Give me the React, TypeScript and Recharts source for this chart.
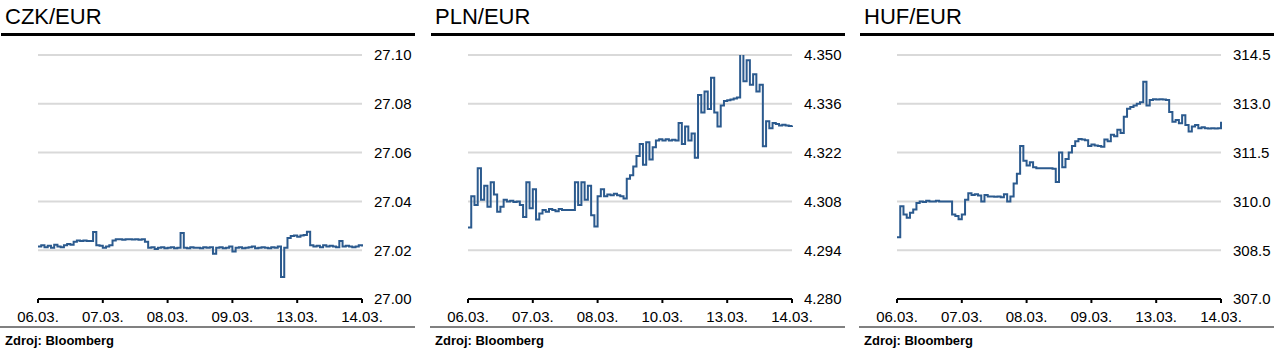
import React from "react";
import { LineChart, Line, XAxis, YAxis, CartesianGrid } from "recharts";

// day labels under the x axis (intraday data, 20 samples per day)
const daysCzkHuf = ["06.03.", "07.03.", "08.03.", "09.03.", "13.03.", "14.03."];
const daysPln = ["06.03.", "07.03.", "08.03.", "10.03.", "13.03.", "14.03."];
const xTicks = [0, 20, 40, 60, 80, 100];

const czkTicks = [27.0, 27.02, 27.04, 27.06, 27.08, 27.1];
const plnTicks = [4.28, 4.294, 4.308, 4.322, 4.336, 4.35];
const hufTicks = [307.0, 308.5, 310.0, 311.5, 313.0, 314.5];

const czk = [
  27.0215, 27.022, 27.0212, 27.0218, 27.021, 27.0222, 27.0215, 27.0212, 27.022, 27.0225, 27.0222,
  27.0235, 27.024, 27.0238, 27.024, 27.0238, 27.0238,
  27.0275,
  27.022, 27.0218, 27.021, 27.0215, 27.022,
  27.024, 27.0245, 27.0245, 27.0243, 27.0245, 27.0245, 27.0244, 27.0245, 27.0243, 27.0245, 27.0235,
  27.021, 27.0212, 27.0205, 27.021, 27.0212, 27.0208, 27.021, 27.0212, 27.0208, 27.021,
  27.027,
  27.021, 27.0208, 27.0212, 27.021, 27.021, 27.0208, 27.0212, 27.021, 27.0212,
  27.0185,
  27.021, 27.0212, 27.0208, 27.021, 27.0215,
  27.0195,
  27.021, 27.0212, 27.0208, 27.021, 27.0212, 27.0215, 27.0208, 27.021, 27.0212, 27.021, 27.0208, 27.0212, 27.021, 27.0215,
  27.009,
  27.021,
  27.025, 27.0258, 27.026, 27.0255, 27.026, 27.0262, 27.0276,
  27.022, 27.0215, 27.0218, 27.0212, 27.022, 27.0215, 27.0218, 27.0215, 27.0212, 27.0238, 27.0215,
  27.0218, 27.0215, 27.0212, 27.0215, 27.022, 27.0215,
];

const pln = [
  4.3005, 4.3095, 4.307, 4.3175, 4.3085, 4.3125, 4.3065, 4.3135, 4.31, 4.305,
  4.3065, 4.3085, 4.308, 4.3082, 4.3078, 4.308, 4.307, 4.3035, 4.3135, 4.306,
  4.3115, 4.3028, 4.3045, 4.3055, 4.305, 4.3058, 4.3055, 4.3052, 4.3058, 4.3055,
  4.3055, 4.3055, 4.3055, 4.3135, 4.307, 4.3135, 4.3085, 4.3125, 4.304, 4.3008,
  4.3095, 4.3115, 4.3095, 4.31, 4.3098, 4.3102, 4.3098, 4.3095, 4.3088, 4.3145,
  4.3155, 4.318, 4.321, 4.3245, 4.3185, 4.325, 4.32, 4.3235, 4.3255, 4.3258,
  4.3255, 4.3258, 4.3255, 4.3257, 4.3255, 4.3305, 4.3245, 4.3295, 4.3255, 4.3275,
  4.3205, 4.3385, 4.3335, 4.3395, 4.3345, 4.3435, 4.3335, 4.3295, 4.3355, 4.3368,
  4.337, 4.3372, 4.3375, 4.3378, 4.3505, 4.3425, 4.3485, 4.3415, 4.3445, 4.3395,
  4.3415, 4.3238, 4.331, 4.329, 4.3305, 4.3302, 4.3298, 4.33, 4.3298, 4.3296,
  4.3298,
];

const huf = [
  308.9, 309.85, 309.6, 309.5, 309.65, 309.75, 309.95, 310.0, 309.98, 310.02,
  310.0, 310.0, 310.02, 310.0, 310.0, 310.0, 310.0, 309.6, 309.55, 309.45,
  309.6, 310.05, 310.25, 310.2, 310.22, 310.18, 310.0, 310.2, 310.15, 310.15,
  310.14, 310.15, 310.13, 310.22, 310.0, 310.15, 310.55, 310.85, 311.7, 311.25,
  311.1, 311.2, 311.05, 311.02, 311.02, 311.02, 311.02, 311.02, 311.0, 310.6,
  311.5, 311.05, 311.3, 311.5, 311.7, 311.85, 311.92, 311.9, 311.88, 311.7,
  311.75, 311.72, 311.7, 311.68, 311.9, 311.85, 312.05, 312.0, 312.2, 312.1,
  312.6, 312.85, 312.9, 312.95, 313.0, 313.05, 313.68, 312.95, 313.12, 313.14,
  313.13, 313.14, 313.13, 313.12, 312.75, 312.45, 312.5, 312.4, 312.65, 312.35,
  312.15, 312.3, 312.35, 312.25, 312.28, 312.25, 312.24, 312.25, 312.24, 312.25,
  312.45,
];

const FONT = "Arial, 'Liberation Sans', sans-serif";
const BLUE = "#2b5a8e";

type PanelProps = {
  left: number;
  title: string;
  values: number[];
  ticks: number[];
  decimals: number;
  days: string[];
};

const Panel: React.FC<PanelProps> = ({ left, title, values, ticks, decimals, days }) => {
  const data = values.map((v, i) => ({ t: i, v }));
  return (
    <div style={{ position: "absolute", left, top: 0, width: 421, height: 353 }}>
      <div
        style={{
          position: "absolute",
          left: 5,
          top: 6,
          fontFamily: FONT,
          fontSize: 22,
          lineHeight: 1,
          color: "#000",
          whiteSpace: "nowrap",
        }}
      >
        {title}
      </div>
      <div style={{ position: "absolute", left: 1, top: 33, width: 414, height: 3, background: "#000" }} />
      <div style={{ position: "absolute", left: 0, top: 40 }}>
        <LineChart width={421} height={300} data={data} margin={{ top: 15, right: 0, bottom: 0, left: 38 }}>
          <CartesianGrid vertical={false} stroke="#d9d9d9" strokeWidth={2} />
          <XAxis
            type="number"
            dataKey="t"
            domain={[0, 100]}
            ticks={xTicks}
            interval={0}
            tickFormatter={(t: number) => days[Math.round(t / 20)]}
            height={41}
            axisLine={{ stroke: "#000", strokeWidth: 2 }}
            tickLine={{ stroke: "#000", strokeWidth: 2 }}
            tickSize={4}
            tickMargin={8}
            tick={{ fontSize: 15, fill: "#000", fontFamily: FONT }}
          />
          <YAxis
            orientation="right"
            domain={[ticks[0], ticks[ticks.length - 1]]}
            ticks={ticks}
            interval={0}
            allowDataOverflow
            tickFormatter={(v: number) => v.toFixed(decimals)}
            width={59}
            axisLine={false}
            tickLine={false}
            tickSize={0}
            tickMargin={12}
            tick={{ fontSize: 15, fill: "#000", fontFamily: FONT, textAnchor: "start" }}
          />
          <Line
            type="stepAfter"
            dataKey="v"
            stroke={BLUE}
            strokeWidth={2}
            dot={false}
            isAnimationActive={false}
          />
        </LineChart>
      </div>
      <div style={{ position: "absolute", left: 0, top: 326, width: 415, height: 2, background: "#808080" }} />
      <div
        style={{
          position: "absolute",
          left: 5,
          top: 334,
          fontFamily: FONT,
          fontSize: 13,
          fontWeight: "bold",
          lineHeight: 1,
          color: "#000",
          whiteSpace: "nowrap",
        }}
      >
        Zdroj: Bloomberg
      </div>
    </div>
  );
};

export default function App() {
  return (
    <div
      style={{
        position: "absolute",
        left: 0,
        top: 0,
        width: 1280,
        height: 353,
        background: "#fff",
        overflow: "hidden",
      }}
    >
      <Panel left={0} title="CZK/EUR" values={czk} ticks={czkTicks} decimals={2} days={daysCzkHuf} />
      <Panel left={430} title="PLN/EUR" values={pln} ticks={plnTicks} decimals={3} days={daysPln} />
      <Panel left={859} title="HUF/EUR" values={huf} ticks={hufTicks} decimals={1} days={daysCzkHuf} />
    </div>
  );
}
